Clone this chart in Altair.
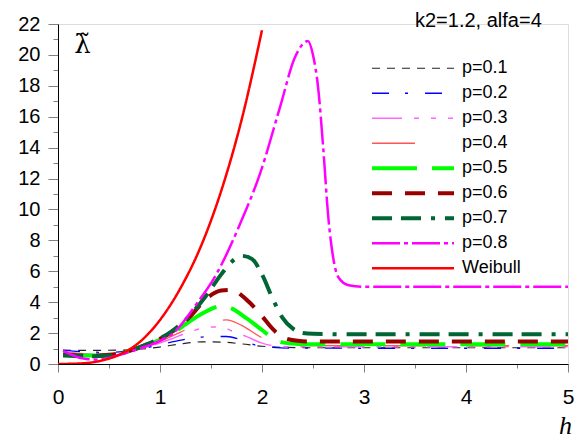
import altair as alt
import pandas as pd

series_names = ["p=0.1", "p=0.2", "p=0.3", "p=0.4", "p=0.5", "p=0.6", "p=0.7", "p=0.8", "Weibull"]

h_p01 = [0.05, 0.3, 0.6, 0.8, 1.0, 1.2, 1.4, 1.6, 1.8, 2.0, 2.2, 2.5, 3.0, 5.0]
v_p01 = [0.9, 0.88, 0.9, 0.95, 1.1, 1.3, 1.43, 1.42, 1.3, 1.15, 1.08, 1.05, 1.05, 1.05]

h_p02 = [0.05, 0.3, 0.5, 0.7, 0.9, 1.1, 1.3, 1.5, 1.65, 1.8, 1.95, 2.1, 2.3, 3.0, 5.0]
v_p02 = [0.88, 0.78, 0.75, 0.85, 1.1, 1.4, 1.65, 1.78, 1.78, 1.55, 1.2, 1.07, 1.03, 1.02, 1.02]

h_p03 = [0.05, 0.3, 0.5, 0.7, 0.9, 1.1, 1.3, 1.5, 1.6, 1.7, 1.85, 2.0, 2.15, 2.3, 3.0, 5.0]
v_p03 = [0.8, 0.65, 0.6, 0.8, 1.15, 1.6, 2.1, 2.4, 2.4, 2.15, 1.77, 1.35, 1.15, 1.12, 1.12, 1.12]

h_p04 = [0.05, 0.3, 0.5, 0.7, 0.9, 1.1, 1.3, 1.5, 1.65, 1.8, 2.0, 2.15, 2.3, 3.0, 5.0]
v_p04 = [0.75, 0.6, 0.55, 0.8, 1.2, 1.75, 2.35, 2.75, 2.85, 2.5, 1.7, 1.3, 1.2, 1.18, 1.18]

h_p05 = [0.05, 0.3, 0.5, 0.7, 0.9, 1.1, 1.3, 1.45, 1.6, 1.7, 1.85, 2.0, 2.1, 2.2, 2.35, 2.5, 3.0, 5.0]
v_p05 = [0.65, 0.55, 0.55, 0.85, 1.3, 1.9, 2.8, 3.4, 3.75, 3.6, 2.95, 2.2, 1.7, 1.4, 1.3, 1.28, 1.28, 1.28]

h_p06 = [0.05, 0.3, 0.5, 0.7, 0.9, 1.1, 1.3, 1.45, 1.6, 1.7, 1.85, 2.0, 2.1, 2.2, 2.35, 2.5, 3.0, 5.0]
v_p06 = [0.6, 0.55, 0.6, 0.85, 1.35, 2.0, 3.1, 4.2, 4.75, 4.8, 4.15, 3.1, 2.3, 1.75, 1.5, 1.45, 1.45, 1.45]

h_p07 = [0.05, 0.3, 0.5, 0.7, 0.9, 1.1, 1.3, 1.45, 1.6, 1.7, 1.8, 1.9, 2.0, 2.1, 2.2, 2.3, 2.4, 2.5, 3.0, 5.0]
v_p07 = [0.55, 0.5, 0.55, 0.85, 1.35, 2.05, 3.2, 4.4, 5.8, 6.6, 7.0, 6.8, 5.8, 4.3, 3.0, 2.3, 2.0, 1.95, 1.92, 1.92]

h_p08 = [0.05, 0.25, 0.4, 0.6, 0.8, 1.0, 1.13, 1.36, 1.56, 1.8, 1.98, 2.18, 2.32, 2.4, 2.45, 2.5, 2.55, 2.6, 2.65, 2.7, 2.75, 2.85, 3.0, 5.0]
v_p08 = [0.85, 0.35, 0.28, 0.58, 1.0, 1.5, 2.0, 3.9, 5.9, 9.3, 12.3, 16.7, 19.8, 20.7, 20.9, 20.0, 17.9, 14.0, 9.5, 6.8, 5.6, 5.1, 5.0, 5.0]

h_weib = [0.0, 0.2, 0.4, 0.6, 0.8, 1.0, 1.2, 1.4, 1.6, 1.8, 2.0]
v_weib = [0.0, 0.03, 0.18, 0.6, 1.42, 2.85, 4.9, 7.6, 11.2, 15.8, 21.6]

h_lists = [h_p01, h_p02, h_p03, h_p04, h_p05, h_p06, h_p07, h_p08, h_weib]
v_lists = [v_p01, v_p02, v_p03, v_p04, v_p05, v_p06, v_p07, v_p08, v_weib]

colors = ["#222222", "#0000ff", "#ff66ff", "#ff5555", "#00ff00", "#990000", "#006633", "#ff00ff", "#ff0000"]
dashes = [[8, 7], [17, 16, 3, 17], [30, 12, 5, 12, 5, 12, 5, 12], [43, 40], [45, 15], [20, 13],
          [20, 9, 20, 10, 4, 10], [28, 4, 4, 4], [1, 0]]
widths = [1.2, 1.3, 1.5, 1.3, 4, 4, 4, 2.5, 2.5]

rows = []
for name, hs, vs in zip(series_names, h_lists, v_lists):
    for h, v in zip(hs, vs):
        rows.append({"series": name, "h": h, "v": v})
df = pd.DataFrame(rows)

leg = alt.Legend(
    title=None, orient="none", legendX=312, legendY=32, symbolType="stroke",
    symbolSize=6724, clipHeight=24.5, rowPadding=0, padding=0,
    labelFont="Liberation Sans", labelFontSize=18, labelColor="black", labelOffset=6,
    labelLimit=0,
)

chart = alt.Chart(df).mark_line(interpolate="monotone", strokeCap="butt", clip=True).encode(
    x=alt.X("h:Q", scale=alt.Scale(domain=[0, 5], nice=False, zero=False),
            axis=alt.Axis(values=[i * 0.5 for i in range(11)],
                          labelExpr="datum.value % 1 == 0 ? format(datum.value, 'd') : ''",
                          tickSize={"condition": {"test": "datum.value % 1 == 0", "value": 8}, "value": 4},
                          grid=False, domainColor="black", tickColor="#808080",
                          labelFont="Liberation Sans", labelFontSize=21, labelColor="black",
                          labelPadding=14, labelOverlap=False, labelFlush=False,
                          title="h", titleFont="Liberation Serif", titleFontStyle="italic",
                          titleFontWeight="normal", titleFontSize=26, titleColor="black",
                          titleX=507, titleY=69, titleAlign="center", titleBaseline="alphabetic")),
    y=alt.Y("v:Q", scale=alt.Scale(domain=[0, 22], nice=False),
            axis=alt.Axis(values=list(range(23)),
                          labelExpr="datum.value % 2 == 0 ? format(datum.value, 'd') : ''",
                          tickSize={"condition": {"test": "datum.value % 2 == 0", "value": 10}, "value": 5},
                          grid=False, domainColor="black", tickColor="#808080",
                          labelFont="Liberation Sans", labelFontSize=20, labelColor="black",
                          labelPadding=8, labelOverlap=False, labelFlush=False,
                          title="λ̃", titleFont="DejaVu Serif", titleFontWeight="normal",
                          titleFontSize=26, titleColor="black", titleAngle=0,
                          titleX=24, titleY=28, titleAlign="center", titleBaseline="alphabetic")),
    color=alt.Color("series:N", scale=alt.Scale(domain=series_names, range=colors), legend=leg),
    strokeDash=alt.StrokeDash("series:N", scale=alt.Scale(domain=series_names, range=dashes), legend=leg),
    strokeWidth=alt.StrokeWidth("series:N", scale=alt.Scale(type="ordinal", domain=series_names, range=widths), legend=leg),
).properties(
    width=510, height=340,
    autosize=alt.AutoSizeParams(type="none"),
    padding={"left": 58, "top": 24, "right": 10, "bottom": 77},
    title=alt.TitleParams("k2=1.2, alfa=4", anchor="start", frame="group", offset=0,
                          align="left", baseline="alphabetic", dy=33, dx=357, fontSize=20,
                          fontWeight="normal", font="Liberation Sans", color="black"),
).configure_view(stroke=None).configure(background="white")

chart.save("out.html", embed_options={"renderer": "svg", "actions": False})
